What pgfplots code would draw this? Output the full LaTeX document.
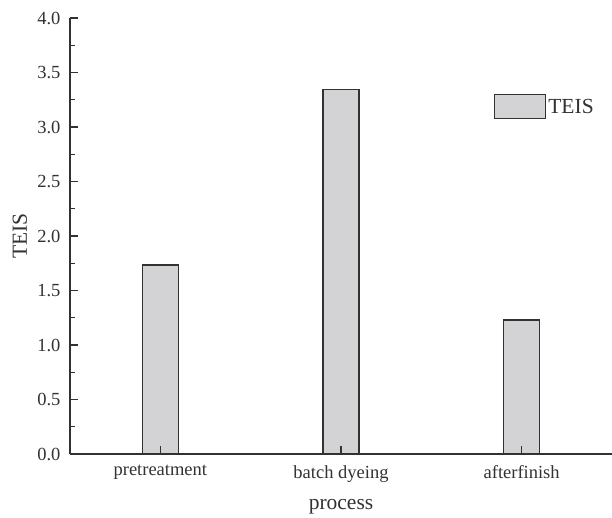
\documentclass[border=0pt]{standalone}
\usepackage{pgfplots}
\pgfplotsset{compat=1.18}
\usepackage{fontspec}
\setmainfont{Liberation Serif}
\definecolor{barfill}{RGB}{211,211,214}
\definecolor{axcol}{RGB}{50,50,50}
\begin{document}
\begin{tikzpicture}
\useasboundingbox (-70pt,-63pt) rectangle (542pt,454pt);
\begin{axis}[
  scale only axis, width=542pt, height=436pt,
  xmin=-0.5, xmax=2.5, ymin=0, ymax=4,
  axis x line*=bottom, axis y line*=left,
  tick align=inside,
  axis on top,
  xtick={0,1,2}, xticklabels={pretreatment,batch dyeing,afterfinish},
  ytick={0,0.5,...,4}, minor y tick num=1,
  xticklabel style={yshift=-8pt},
  yticklabel style={xshift=-6pt, /pgf/number format/.cd,fixed,fixed zerofill,precision=1,assume math mode=true},
  major tick length=8pt, minor tick length=4.5pt,
  axis line style={axcol, line width=1.4pt},
  every tick/.style={axcol, line width=1.4pt},
  tick label style={font=\fontsize{18.5}{20}\selectfont, text=axcol},
  xlabel={process}, ylabel={TEIS},
  every axis x label/.style={at={(axis description cs:0.5,-0.1216)}, anchor=center, font=\fontsize{21.5}{24}\selectfont, text=axcol},
  every axis y label/.style={at={(axis description cs:-0.0923,0.5)}, anchor=center, rotate=90, font=\fontsize{21.5}{24}\selectfont, text=axcol},
  legend style={at={(rel axis cs:0.782,0.826)}, anchor=north west, draw=none, fill=none, inner sep=0pt, font=\fontsize{21.5}{24}\selectfont, text=axcol},
]
\addplot[ybar, bar width=36pt, bar shift=0pt, fill=barfill, draw=axcol, line width=1.3pt,
  legend image code/.code={\draw[fill=barfill, draw=axcol, line width=1.3pt] (0pt,-12pt) rectangle (51pt,12pt);}]
  coordinates {(0,1.733) (1,3.343) (2,1.23)};
\addlegendentry{TEIS}
\end{axis}
\end{tikzpicture}
\end{document}
